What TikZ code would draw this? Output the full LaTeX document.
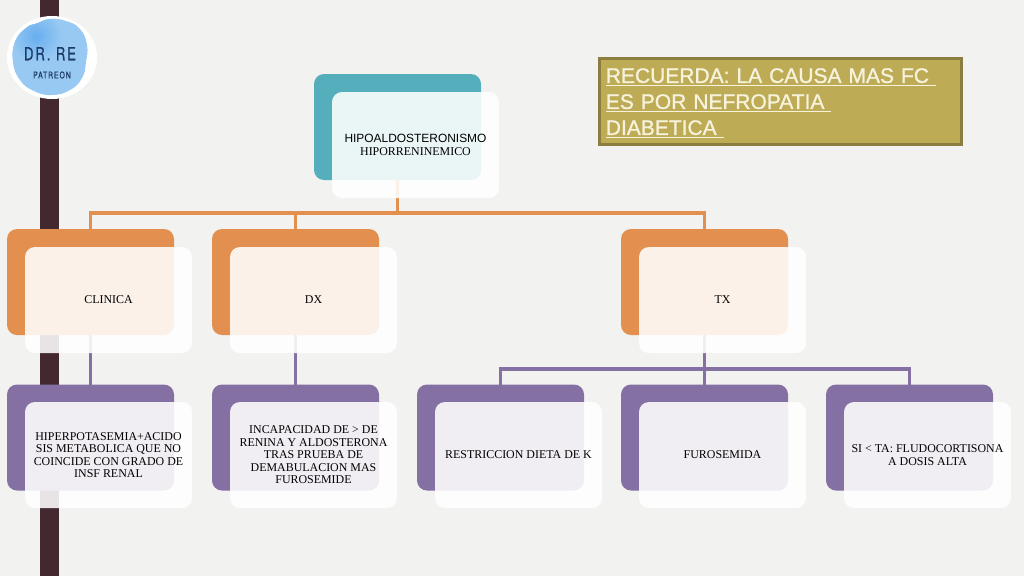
\documentclass[tikz,border=0pt]{standalone}
\usepackage{fontspec}
\setmainfont{Liberation Serif}
\newfontfamily\sansfont{Liberation Sans}
\newfontfamily\notefont[FakeBold=1.2]{Liberation Sans}
\newfontfamily\logofont[FakeStretch=0.72,LetterSpace=11,FakeBold=0.8]{TeX Gyre Heros}
\definecolor{bgcol}{HTML}{F2F2F1}
\definecolor{barcol}{HTML}{43292F}
\definecolor{tealcol}{HTML}{54AEBB}
\definecolor{orangecol}{HTML}{E28F4F}
\definecolor{purplecol}{HTML}{8570A3}
\definecolor{goldcol}{HTML}{BDAB55}
\definecolor{golddark}{HTML}{8B7D3E}
\definecolor{creamcol}{HTML}{F6F2DC}
\definecolor{blobcol}{HTML}{98C9F2}
\definecolor{blobdeep}{HTML}{68AEF0}
\definecolor{inkcol}{HTML}{1B3A66}
\tikzset{
  backbox/.style={rectangle,rounded corners=7.5pt,minimum width=125.25pt,minimum height=79.5pt,inner sep=0pt,outer sep=0pt},
  frontbox/.style={rectangle,rounded corners=7.5pt,minimum width=125.25pt,minimum height=79.5pt,inner sep=0pt,outer sep=0pt,
    fill=white,fill opacity=0.88,text opacity=1,align=center,font=\fontsize{8.95}{9.4}\selectfont},
  tealback/.style={backbox,fill=tealcol},
  orangeback/.style={backbox,fill=orangecol},
  purpleback/.style={backbox,fill=purplecol},
  orangeline/.style={draw=orangecol,line width=2.6pt},
  purpleline/.style={draw=purplecol,line width=2.3pt}
}
\begin{document}
\begin{tikzpicture}[x=0.75pt,y=-0.75pt]
\useasboundingbox (0,0) rectangle (1024,576);
\fill [bgcol] (0,0) rectangle (1024,576);
\fill [barcol] (40,0) rectangle (59,576);
\fill [white] (52,57.5) ellipse (45 and 41.5);
\begin{scope}
\clip plot [smooth cycle,tension=0.8] coordinates {(50,19) (66,21) (80,29) (87,45) (86,62) (82,78) (70,90) (52,95) (34,91) (20,80) (13,62) (15,42) (26,28) (38,23)};
\fill [blobcol] (0,0) rectangle (100,100);
\shade [inner color=blobdeep,outer color=blobcol] (36,36) circle (26);
\end{scope}
\node [font=\logofont\fontsize{13.5}{14}\selectfont,text=inkcol,inner sep=0pt] (logotitle) at (50,53.7) {DR. RE};
\node [font=\logofont\fontsize{7}{8}\selectfont,text=inkcol,inner sep=0pt] (logosub) at (52,75) {PATREON};
\node [tealback] (hipoback) at (397.5,127) {};
\node [orangeback] (clinicaback) at (90.5,282) {};
\node [orangeback] (dxback) at (295.5,282) {};
\node [orangeback] (txback) at (704.5,282) {};
\node [purpleback] (hiperback) at (90.5,437.5) {};
\node [purpleback] (incapback) at (295.5,437.5) {};
\node [purpleback] (restback) at (500.5,437.5) {};
\node [purpleback] (furoback) at (704.5,437.5) {};
\node [purpleback] (siback) at (909.5,437.5) {};
\coordinate (orangebus) at (397.5,213);
\coordinate (purplebus) at (704.5,369);
\draw [orangeline] (hipoback.south) -- (orangebus) -| (clinicaback.north);
\draw [orangeline] (orangebus) -| (dxback.north);
\draw [orangeline] (orangebus) -| (txback.north);
\draw [purpleline] (clinicaback.south) -- (hiperback.north);
\draw [purpleline] (dxback.south) -- (incapback.north);
\draw [purpleline] (txback.south) -- (furoback.north);
\draw [purpleline] (purplebus) -| (restback.north);
\draw [purpleline] (purplebus) -| (siback.north);
\node [frontbox] (hipo) at (415.5,145) {{\sansfont HIPOALDOSTERONISMO}\\HIPORRENINEMICO};
\node [frontbox] (clinica) at (108.5,300) {CLINICA};
\node [frontbox] (dx) at (313.5,300) {DX};
\node [frontbox] (tx) at (722.5,300) {TX};
\node [frontbox] (hiper) at (108.5,455) {HIPERPOTASEMIA+ACIDO\\SIS METABOLICA QUE NO\\COINCIDE CON GRADO DE\\INSF RENAL};
\node [frontbox] (incap) at (313.5,455) {INCAPACIDAD DE > DE\\RENINA Y ALDOSTERONA\\TRAS PRUEBA DE\\DEMABULACION MAS\\FUROSEMIDE};
\node [frontbox] (rest) at (518.5,455) {RESTRICCION DIETA DE K};
\node [frontbox] (furo) at (722.5,455) {FUROSEMIDA};
\node [frontbox] (si) at (927.5,455) {SI < TA: FLUDOCORTISONA\\A DOSIS ALTA};
\node [rectangle,fill=goldcol,draw=golddark,line width=2.25pt,minimum width=272pt,minimum height=64.5pt,inner sep=0pt] (recuerda) at (780.5,101) {};
\node [inner sep=0pt,text width=262pt,align=left,text=creamcol,font=\notefont\fontsize{15.75}{19.5}\selectfont] (recuerdatext) at (780.5,103) {\underline{RECUERDA: LA CAUSA MAS FC\ }\\\underline{ES POR NEFROPATIA\ }\\\underline{DIABETICA\ }};
\end{tikzpicture}
\end{document}
